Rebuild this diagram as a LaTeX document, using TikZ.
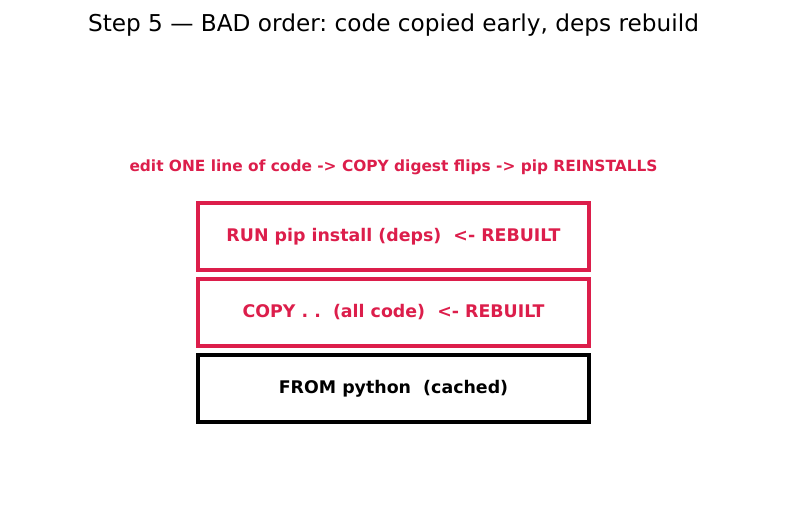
\documentclass[tikz,border=0pt]{standalone}
\usepackage{fontspec}
\setmainfont{DejaVu Sans}
\frenchspacing
\usetikzlibrary{positioning}

\definecolor{hot}{RGB}{220,30,75}

\begin{document}
\begin{tikzpicture}[
    x=1pt, y=1pt,
    node distance=5pt,
    layer/.style={draw, line width=4pt, minimum width=391pt, minimum height=67pt, font=\fontsize{17.4}{20}\selectfont\bfseries},
    bad/.style={layer, draw=hot, text=hot}
]
\useasboundingbox (0,0) rectangle (787,-510);
\node[font=\fontsize{23.2}{28}\selectfont] (title) at (393.5,-25) {Step 5 — BAD order: code copied early, deps rebuild};
\node[font=\fontsize{15.4}{18}\selectfont\bfseries, text=hot] (note) at (393.5,-167) {edit ONE line of code -> COPY digest flips -> pip REINSTALLS};

\node[bad] (run) at (393.5,-236.5) {RUN pip install (deps)\ \ <- REBUILT};
\node[bad, below=of run] (copy) {COPY . .\ \ (all code)\ \ <- REBUILT};
\node[layer, below=of copy] (from) {FROM python\ \ (cached)};
\end{tikzpicture}
\end{document}
